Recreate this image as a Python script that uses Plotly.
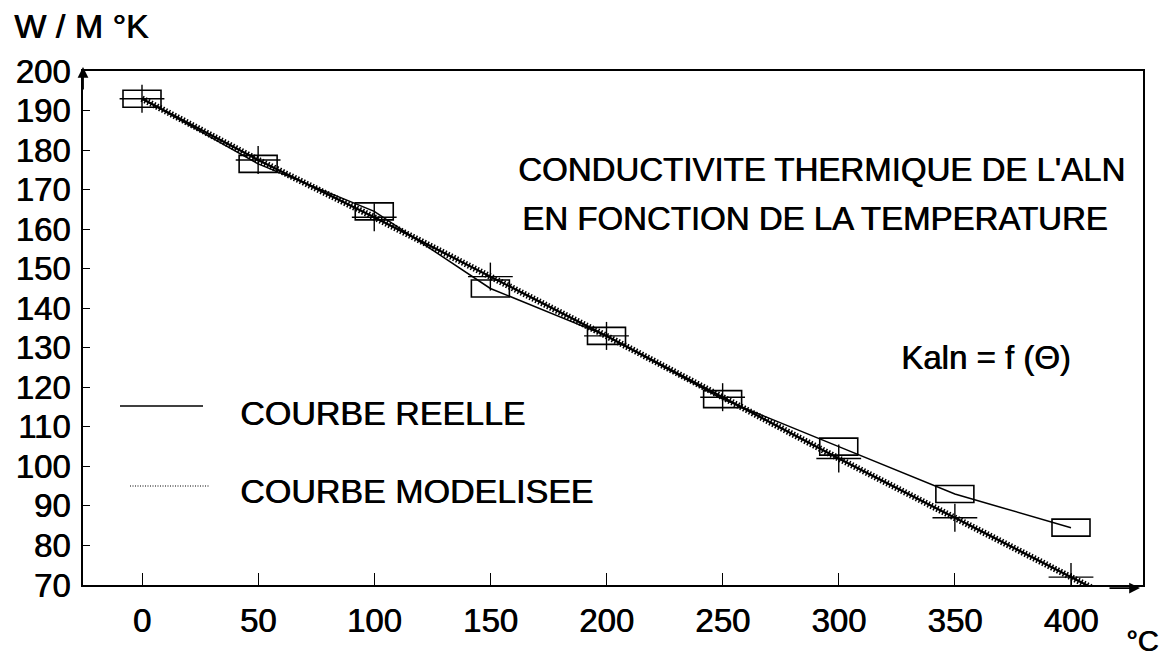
import plotly.graph_objects as go

# Temperature (°C) and thermal conductivity (W/m·K) of AlN
temp = [0, 50, 100, 150, 200, 250, 300, 350, 400]
k_measured = [193, 176.5, 164.5, 145, 133, 117, 105, 93, 84.5]

temp_model = [0, 50, 100, 150, 200, 250, 300, 350, 400, 410]
k_model = [193, 177.5, 163, 148, 133, 117.5, 102, 87, 72, 69]

x_ticks = [0, 50, 100, 150, 200, 250, 300, 350, 400]
y_ticks = [70, 80, 90, 100, 110, 120, 130, 140, 150, 160, 170, 180, 190, 200]

W, H = 1174, 659
L, R, T, B = 83, 1143, 71, 585  # plot area in pixels
FONT = "Liberation Sans, Arial, sans-serif"
HEAVY = "0.7px 0px 0px black"  # slightly heavier strokes for all text


def px(x):
    return (x - L) / (R - L)


def py(y):
    return (B - y) / (B - T)


def tfont(size):
    return dict(size=size, shadow=HEAVY)


fig = go.Figure()

# model curve: core line plus a hatched overlay
fig.add_trace(go.Scatter(x=temp_model, y=k_model, mode="lines",
                         line=dict(color="black", width=2.2),
                         showlegend=False, hoverinfo="skip"))
fig.add_trace(go.Scatter(x=temp_model, y=k_model, mode="lines",
                         line=dict(color="black", width=6.5, dash="1.5px,1.8px"),
                         showlegend=False, hoverinfo="skip"))
# model points (crosses)
fig.add_trace(go.Scatter(x=temp_model[:-1], y=k_model[:-1], mode="markers",
                         marker=dict(symbol="line-ew", size=32,
                                     line=dict(color="black", width=1.4)),
                         showlegend=False, hoverinfo="skip"))
fig.add_trace(go.Scatter(x=temp_model[:-1], y=k_model[:-1], mode="markers",
                         marker=dict(symbol="line-ns", size=20,
                                     line=dict(color="black", width=1.4)),
                         showlegend=False, hoverinfo="skip"))

# measured curve
fig.add_trace(go.Scatter(x=temp, y=k_measured, mode="lines",
                         line=dict(color="black", width=1.5),
                         showlegend=False, hoverinfo="skip"))

shapes = []
# measured points drawn as open rectangles anchored on the data
for t, k in zip(temp, k_measured):
    shapes.append(dict(type="rect", xref="x", yref="y",
                       xsizemode="pixel", ysizemode="pixel",
                       xanchor=t, yanchor=k,
                       x0=-19, x1=19, y0=-8.5, y1=8.5,
                       line=dict(color="black", width=1.6),
                       fillcolor="rgba(0,0,0,0)"))

# legend samples
shapes.append(dict(type="line", xref="paper", yref="paper",
                   x0=px(120), x1=px(203), y0=py(406), y1=py(406),
                   line=dict(color="black", width=1.6)))
shapes.append(dict(type="line", xref="paper", yref="paper",
                   x0=px(130), x1=px(210), y0=py(486), y1=py(486),
                   line=dict(color="black", width=1.2, dash="1px,1.5px")))

annotations = [
    dict(text="W / M °K", x=px(12), y=py(26), xanchor="left", yanchor="middle",
         font=tfont(34)),
    dict(text="CONDUCTIVITE THERMIQUE DE L'ALN", x=px(1127), y=py(169),
         xanchor="right", yanchor="middle", font=tfont(33)),
    dict(text="EN FONCTION DE LA TEMPERATURE", x=px(1110), y=py(218),
         xanchor="right", yanchor="middle", font=tfont(33)),
    dict(text="Kaln = f (Θ)", x=px(1073), y=py(357),
         xanchor="right", yanchor="middle", font=tfont(33)),
    dict(text="COURBE REELLE", x=px(238), y=py(413),
         xanchor="left", yanchor="middle", font=tfont(34)),
    dict(text="COURBE MODELISEE", x=px(238), y=py(491),
         xanchor="left", yanchor="middle", font=tfont(34)),
    dict(text="°C", x=px(1124), y=py(641),
         xanchor="left", yanchor="middle", font=tfont(29)),
    # axis arrows
    dict(text="", x=0, y=1.008, ax=0, ay=24, showarrow=True, arrowhead=2,
         arrowsize=1.2, arrowwidth=1.8, arrowcolor="black"),
    dict(text="", x=px(1140), y=-0.006, ax=-32, ay=0, showarrow=True, arrowhead=2,
         arrowsize=1.2, arrowwidth=1.8, arrowcolor="black"),
]
for a in annotations:
    a.setdefault("xref", "paper")
    a.setdefault("yref", "paper")
    a.setdefault("showarrow", False)

fig.update_layout(
    width=W, height=H,
    margin=dict(l=L, r=W - R, t=T, b=H - B),
    paper_bgcolor="white", plot_bgcolor="white",
    font=dict(family=FONT, color="black"),
    shapes=shapes, annotations=annotations,
    showlegend=False,
)
fig.update_xaxes(range=[(L - 142) / 2.3225, (R - 142) / 2.3225],
                 tickvals=x_ticks, ticktext=[str(v) for v in x_ticks],
                 showgrid=False, zeroline=False,
                 showline=True, linecolor="black", linewidth=1.8, mirror=True,
                 ticks="inside", ticklen=12, tickwidth=1.3, tickcolor="black",
                 tickfont=tfont(33), ticklabelstandoff=5)
fig.update_yaxes(range=[70, 200],
                 tickvals=y_ticks, ticktext=[str(v) for v in y_ticks],
                 showgrid=False, zeroline=False,
                 showline=True, linecolor="black", linewidth=1.8, mirror=True,
                 ticks="inside", ticklen=7, tickwidth=1.3, tickcolor="black",
                 tickfont=tfont(33), ticklabelstandoff=4)

fig.write_html("out.html")
